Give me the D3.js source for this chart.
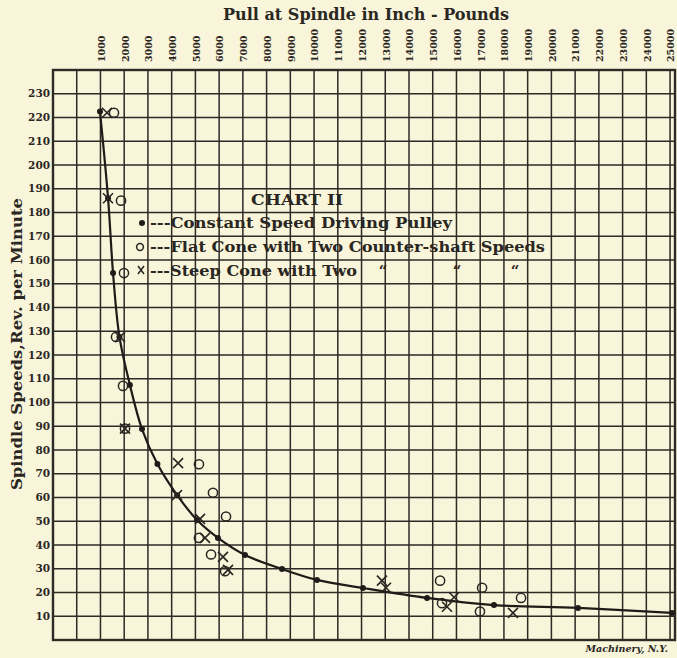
<!DOCTYPE html>
<html>
<head>
<meta charset="utf-8">
<script src="https://cdn.jsdelivr.net/npm/d3@7"></script>
<style>
  body { margin: 0; background: #f8f5da; }
  svg { display: block; }
  text { font-family: "DejaVu Serif", "Liberation Serif", serif; fill: #2a2622; }
</style>
</head>
<body>
<div id="chart"></div>
<script>
// values
const pullTicks = d3.range(1000, 26000, 1000);
const speedTicks = d3.range(10, 240, 10);

// Constant Speed Driving Pulley (dots + curve)
const constantPull = [980, 1320, 1530, 1800, 2240, 2750, 3400, 4230, 5070, 5950, 7090, 8650, 10120, 12060, 14760, 17580, 21120, 25080];
const constantSpeed = [222.5, 186, 154.5, 127.6, 107.4, 88.8, 74.1, 61, 50.5, 43, 35.8, 29.9, 25.3, 21.9, 17.7, 14.7, 13.5, 11.4];

// Flat Cone with Two Counter-shaft Speeds (open circles)
const flatPull = [1570, 1865, 1990, 1655, 1950, 2034, 5150, 5740, 6290, 5150, 5660, 6250, 15310, 15390, 17080, 16990, 18720];
const flatSpeed = [222, 185, 154.5, 127.6, 107, 89, 74, 62, 52, 43, 36, 29, 25, 15.5, 22, 12, 17.7];

// Steep Cone with Two Counter-shaft Speeds (crosses)
const steepPull = [1275, 1317, 1823, 2034, 4270, 4225, 5194, 5405, 6163, 6374, 12860, 13030, 15600, 15900, 18380];
const steepSpeed = [222, 186, 127.6, 89, 74.5, 61, 51, 43, 35, 29.5, 25, 22, 14, 18, 11.4];

const width = 677, height = 658;
const margin = { top: 70, right: 1, bottom: 18, left: 53 };

const svg = d3.select("#chart").append("svg")
  .attr("width", width)
  .attr("height", height);

const x = d3.scaleLinear()
  .domain([-1000, 25250])
  .range([margin.left, width - margin.right]);

const y = d3.scaleLinear()
  .domain([0, 240])
  .range([height - margin.bottom, margin.top]);

const ink = "#2e2a26";

// grid
svg.append("g")
  .selectAll("line")
  .data(d3.range(0, 26000, 1000))
  .enter()
  .append("line")
  .attr("x1", d => x(d)).attr("x2", d => x(d))
  .attr("y1", y(240)).attr("y2", y(0))
  .attr("stroke", ink)
  .attr("stroke-width", 1.5);

svg.append("g")
  .selectAll("line")
  .data(speedTicks)
  .enter()
  .append("line")
  .attr("x1", x(-1000)).attr("x2", x(25250))
  .attr("y1", d => y(d)).attr("y2", d => y(d))
  .attr("stroke", ink)
  .attr("stroke-width", 1.5);

// frame
svg.append("rect")
  .attr("x", x(-1000))
  .attr("y", y(240))
  .attr("width", x(25250) - x(-1000) - 1)
  .attr("height", y(0) - y(240))
  .attr("fill", "none")
  .attr("stroke", ink)
  .attr("stroke-width", 2.4);

// top tick labels (rotated)
svg.append("g")
  .selectAll("text")
  .data(pullTicks)
  .enter()
  .append("text")
  .attr("transform", d => `translate(${x(d) + 1},62) rotate(-90)`)
  .attr("dy", "0.35em")
  .attr("text-anchor", "start")
  .attr("font-size", 9.5)
  .attr("font-weight", "bold")
  .text(d => d);

// left tick labels
svg.append("g")
  .selectAll("text")
  .data(speedTicks)
  .enter()
  .append("text")
  .attr("x", 50)
  .attr("y", d => y(d))
  .attr("dy", "0.35em")
  .attr("text-anchor", "end")
  .attr("font-size", 10.5)
  .attr("font-weight", "bold")
  .text(d => d);

// titles
svg.append("text")
  .attr("x", 223).attr("y", 20)
  .attr("font-size", 16)
  .attr("font-weight", "bold")
  .attr("textLength", 286)
  .attr("lengthAdjust", "spacingAndGlyphs")
  .text("Pull at Spindle in Inch - Pounds");

svg.append("text")
  .attr("transform", "translate(22,490) rotate(-90)")
  .attr("font-size", 15)
  .attr("font-weight", "bold")
  .attr("textLength", 292)
  .attr("lengthAdjust", "spacingAndGlyphs")
  .text("Spindle Speeds,Rev. per Minute");

// curve
const line = d3.line()
  .x((d, i) => x(constantPull[i]))
  .y(d => y(d))
  .curve(d3.curveCatmullRom.alpha(0.5));

svg.append("path")
  .datum(constantSpeed)
  .attr("d", line)
  .attr("fill", "none")
  .attr("stroke", "#1e1b18")
  .attr("stroke-width", 2.2);

// dots
svg.append("g")
  .selectAll("circle")
  .data(constantSpeed)
  .enter()
  .append("circle")
  .attr("cx", (d, i) => x(constantPull[i]))
  .attr("cy", d => y(d))
  .attr("r", 3)
  .attr("fill", "#1e1b18");

// open circles
svg.append("g")
  .selectAll("circle")
  .data(flatSpeed)
  .enter()
  .append("circle")
  .attr("cx", (d, i) => x(flatPull[i]))
  .attr("cy", d => y(d))
  .attr("r", 4.6)
  .attr("fill", "none")
  .attr("stroke", "#2a2622")
  .attr("stroke-width", 1.5);

// crosses
svg.append("g")
  .selectAll("path")
  .data(steepSpeed)
  .enter()
  .append("path")
  .attr("transform", (d, i) => `translate(${x(steepPull[i])},${y(d)})`)
  .attr("d", "M-5,-5L5,5M5,-5L-5,5")
  .attr("fill", "none")
  .attr("stroke", "#2a2622")
  .attr("stroke-width", 1.6);

// legend
const legend = svg.append("g");
legend.append("text")
  .attr("x", 297).attr("y", 205)
  .attr("text-anchor", "middle")
  .attr("font-size", 15)
  .attr("font-weight", "bold")
  .attr("textLength", 92)
  .attr("lengthAdjust", "spacingAndGlyphs")
  .text("CHART II");

const legendRows = [
  { y: 228, text: "---Constant Speed Driving Pulley", len: 302 },
  { y: 252, text: "---Flat Cone with Two Counter-shaft Speeds", len: 395 },
  { y: 276, text: "---Steep Cone with Two", len: 207 }
];
legendRows.forEach(r => {
  legend.append("text")
    .attr("x", 150).attr("y", r.y)
    .attr("font-size", 15.5)
    .attr("font-weight", "bold")
    .attr("textLength", r.len)
    .attr("lengthAdjust", "spacingAndGlyphs")
    .text(r.text);
});
[383, 457, 515].forEach(px => {
  legend.append("text")
    .attr("x", px).attr("y", 276)
    .attr("text-anchor", "middle")
    .attr("font-size", 15)
    .attr("font-weight", "bold")
    .text("\u201C");
});
legend.append("circle")
  .attr("cx", 142).attr("cy", 223).attr("r", 3).attr("fill", "#1e1b18");
legend.append("circle")
  .attr("cx", 140).attr("cy", 247).attr("r", 3.4)
  .attr("fill", "none").attr("stroke", "#2a2622").attr("stroke-width", 1.5);
legend.append("path")
  .attr("transform", "translate(141,270)")
  .attr("d", "M-3,-4L3,4M3,-4L-3,4")
  .attr("fill", "none").attr("stroke", "#2a2622").attr("stroke-width", 1.5);

// credit
svg.append("text")
  .attr("x", 668).attr("y", 652)
  .attr("text-anchor", "end")
  .attr("font-size", 9.5)
  .attr("font-style", "italic")
  .attr("font-weight", "bold")
  .text("Machinery, N.Y.");
</script>
</body>
</html>
